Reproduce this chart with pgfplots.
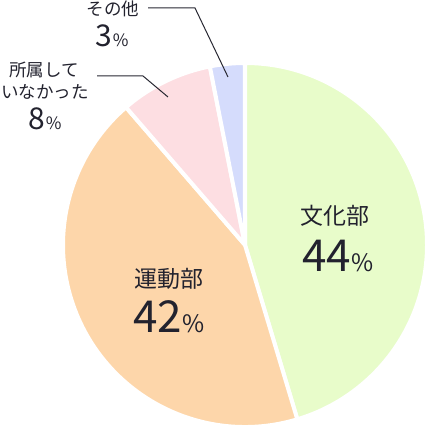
\documentclass[border=0pt]{standalone}
\usepackage{fontspec}
\setmainfont{Noto Sans CJK JP}
\usepackage{pgfplots}
\usepackage{pgfplotstable}
\pgfplotsset{compat=1.18}
\definecolor{culture}{RGB}{232,252,202}
\definecolor{sports}{RGB}{253,214,170}
\definecolor{none}{RGB}{253,222,226}
\definecolor{other}{RGB}{213,220,252}
\definecolor{txt}{RGB}{34,34,46}
\definecolor{leader}{RGB}{40,40,50}

\pgfplotstableread{
name value
culture 44
sports 42
none 8
other 3
}\piedata

\begin{document}
\begin{tikzpicture}
\pgfplotstablegetelem{0}{value}\of\piedata \let\va\pgfplotsretval
\pgfplotstablegetelem{1}{value}\of\piedata \let\vb\pgfplotsretval
\pgfplotstablegetelem{2}{value}\of\piedata \let\vc\pgfplotsretval
\pgfplotstablegetelem{3}{value}\of\piedata \let\vd\pgfplotsretval
\pgfmathsetmacro\total{\va+\vb+\vc+\vd}
% angles, clockwise from 12 o'clock
\pgfmathsetmacro\aa{90}
\pgfmathsetmacro\ab{\aa-\va/\total*360}
\pgfmathsetmacro\ac{\ab-\vb/\total*360}
\pgfmathsetmacro\ad{\ac-\vc/\total*360}
\pgfmathsetmacro\ae{\ad-\vd/\total*360}
\def\R{182}
\begin{axis}[
    name=ax,
    width=430pt, height=430pt,
    scale only axis,
    xmin=-245, xmax=185,
    ymin=-185, ymax=245,
    hide axis,
    clip=false,
]
\fill[culture, draw=white, line width=4pt, line join=round]
    (axis cs:0,0) -- (axis cs:{\R*cos(\aa)},{\R*sin(\aa)}) arc[start angle=\aa, end angle=\ab, radius=\R] -- cycle;
\fill[sports, draw=white, line width=4pt, line join=round]
    (axis cs:0,0) -- (axis cs:{\R*cos(\ab)},{\R*sin(\ab)}) arc[start angle=\ab, end angle=\ac, radius=\R] -- cycle;
\fill[none, draw=white, line width=4pt, line join=round]
    (axis cs:0,0) -- (axis cs:{\R*cos(\ac)},{\R*sin(\ac)}) arc[start angle=\ac, end angle=\ad, radius=\R] -- cycle;
\fill[other, draw=white, line width=4pt, line join=round]
    (axis cs:0,0) -- (axis cs:{\R*cos(\ad)},{\R*sin(\ad)}) arc[start angle=\ad, end angle=\ae, radius=\R] -- cycle;

% leader lines
\draw[leader, line width=1pt] (axis cs:-97,237) -- (axis cs:-50,237) -- (axis cs:-17,168);
\draw[leader, line width=1pt] (axis cs:-148,169) -- (axis cs:-102,169) -- (axis cs:-77,148);

% labels
\tikzset{lbl/.style={txt, inner sep=0pt}}
\node[lbl, font=\fontsize{23}{23}\selectfont] at (axis cs:90,29) {文化部};
\node[lbl, anchor=base] at (axis cs:93,-27)
    {\fontsize{44}{44}\selectfont 44\kern1pt\fontsize{24}{24}\selectfont\%};
\node[lbl, font=\fontsize{23}{23}\selectfont] at (axis cs:-76,-34) {運動部};
\node[lbl, anchor=base] at (axis cs:-76,-88)
    {\fontsize{44}{44}\selectfont 42\kern1pt\fontsize{24}{24}\selectfont\%};

\node[lbl, font=\fontsize{17.5}{17.5}\selectfont] at (axis cs:-132,236) {その他};
\node[lbl, anchor=base] at (axis cs:-133,198)
    {\fontsize{30}{30}\selectfont 3\kern1pt\fontsize{17}{17}\selectfont\%};
\node[lbl, font=\fontsize{17.5}{17.5}\selectfont] at (axis cs:-201,175) {所属して};
\node[lbl, font=\fontsize{17.5}{17.5}\selectfont] at (axis cs:-200,153) {いなかった};
\node[lbl, anchor=base] at (axis cs:-200,115)
    {\fontsize{30}{30}\selectfont 8\kern1pt\fontsize{17}{17}\selectfont\%};
\end{axis}
\pgfresetboundingbox
\path (ax.south west) rectangle (ax.north east);
\end{tikzpicture}
\end{document}
